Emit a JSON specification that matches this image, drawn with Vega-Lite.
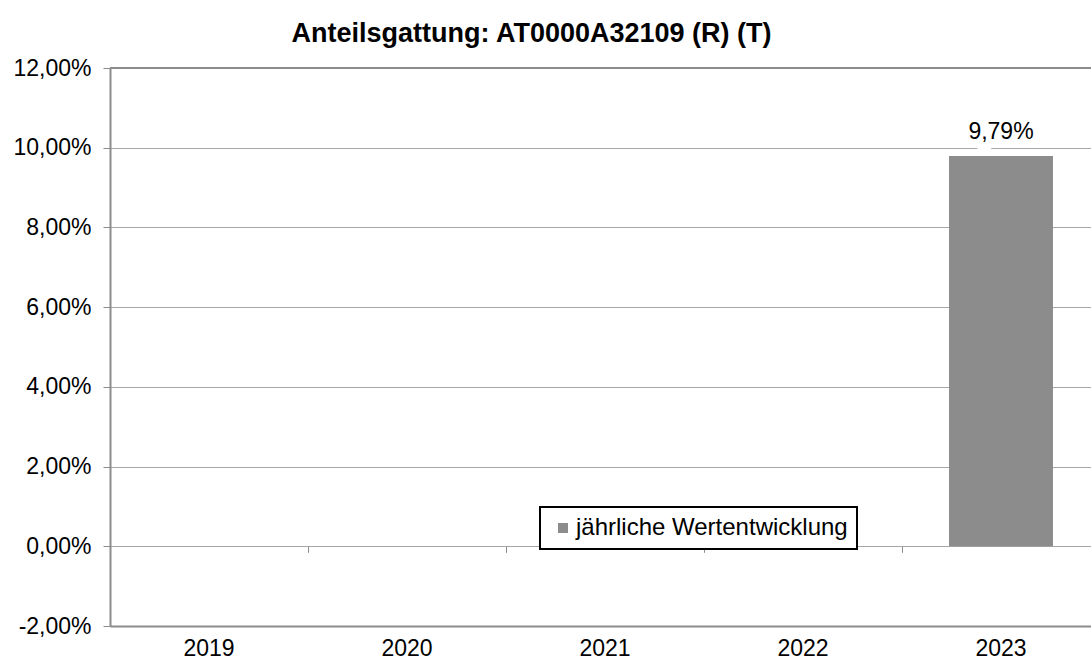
{
  "$schema": "https://vega.github.io/schema/vega-lite/v6.json",
  "autosize": {"type": "none"},
  "padding": {"left": 110, "top": 68, "right": 0, "bottom": 40},
  "width": 981,
  "height": 558,
  "background": "white",
  "title": {
    "text": "Anteilsgattung: AT0000A32109 (R) (T)",
    "font": "Liberation Sans",
    "fontSize": 27,
    "fontWeight": "bold",
    "color": "black",
    "anchor": "middle",
    "baseline": "alphabetic",
    "dx": -69,
    "offset": -12
  },
  "data": {
    "values": [
      {"Jahr": "2019", "Wert": null, "Serie": "jährliche Wertentwicklung"},
      {"Jahr": "2020", "Wert": null, "Serie": "jährliche Wertentwicklung"},
      {"Jahr": "2021", "Wert": null, "Serie": "jährliche Wertentwicklung"},
      {"Jahr": "2022", "Wert": null, "Serie": "jährliche Wertentwicklung"},
      {"Jahr": "2023", "Wert": 0.0979, "Serie": "jährliche Wertentwicklung"}
    ]
  },
  "config": {"view": {"stroke": null}, "font": "Liberation Sans", "legend": {"strokeWidth": 2}},
  "resolve": {"axis": {"x": "independent"}},
  "layer": [
    {
      "mark": {"type": "bar", "color": "#858585"},
      "encoding": {
        "x": {
          "field": "Jahr",
          "type": "ordinal",
          "scale": {"domain": ["2019", "2020", "2021", "2022", "2023"], "range": [0, 990], "paddingInner": 0.475, "paddingOuter": 0.2375},
          "axis": {
            "orient": "bottom",
            "title": null,
            "labelAngle": 0,
            "labelFontSize": 23,
            "labelColor": "black",
            "labelPadding": 11,
            "ticks": false,
            "grid": false,
            "domain": true,
            "domainColor": "#8c8c8c",
            "domainWidth": 2
          }
        },
        "y": {
          "field": "Wert",
          "type": "quantitative",
          "scale": {"domain": [-0.02, 0.12], "nice": false, "zero": false},
          "axis": {
            "title": null,
            "values": [-0.02, 0, 0.02, 0.04, 0.06, 0.08, 0.1, 0.12],
            "labelExpr": "replace(replace(format(datum.value * 100, '.2f'), '.', ','), '\u2212', '-') + '%'",
            "labelFontSize": 23,
            "labelColor": "black",
            "labelPadding": 12,
            "tickSize": 7,
            "tickColor": "#8c8c8c",
            "domain": true,
            "domainColor": "#8c8c8c",
            "domainWidth": 2,
            "grid": true,
            "gridColor": "#a6a6a6",
            "gridWidth": 1
          }
        },
        "color": {
          "field": "Serie",
          "type": "nominal",
          "scale": {"range": ["#8c8c8c"]},
          "legend": {
            "title": null,
            "orient": "none",
            "legendX": 430,
            "legendY": 439,
            "strokeColor": "black",
            "fillColor": "white",
            "padding": 9,
            "symbolType": "square",
            "symbolSize": 100,
            "symbolStrokeWidth": 0,
            "symbolOffset": 2,
            "labelFontSize": 24,
            "labelColor": "black",
            "labelOffset": 1,
            "labelLimit": 500
          }
        }
      }
    },
    {
      "transform": [{"filter": "datum.Wert != null"}, {"calculate": "replace(format(datum.Wert * 100, '.2f'), '.', ',') + '%'", "as": "Label"}],
      "mark": {"type": "text", "fontSize": 23, "stroke": "white", "strokeWidth": 18, "strokeJoin": "round", "fill": "white", "baseline": "alphabetic", "dy": -17},
      "encoding": {
        "x": {
          "field": "Jahr",
          "type": "ordinal",
          "axis": {
            "orient": "bottom",
            "offset": -79.7,
            "title": null,
            "labels": false,
            "domain": false,
            "grid": false,
            "ticks": true,
            "tickOffset": -99,
            "tickSize": 6,
            "tickColor": "#8c8c8c"
          }
        },
        "y": {"field": "Wert", "type": "quantitative"},
        "text": {"field": "Label", "type": "nominal"}
      }
    },
    {
      "transform": [{"filter": "datum.Wert != null"}, {"calculate": "replace(format(datum.Wert * 100, '.2f'), '.', ',') + '%'", "as": "Label"}],
      "mark": {"type": "text", "fontSize": 23, "color": "black", "baseline": "alphabetic", "dy": -17},
      "encoding": {
        "x": {"field": "Jahr", "type": "ordinal", "axis": null},
        "y": {"field": "Wert", "type": "quantitative"},
        "text": {"field": "Label", "type": "nominal"}
      }
    },
    {
      "data": {"values": [{"Linie": 0.12}]},
      "mark": {"type": "rule", "color": "#8c8c8c", "strokeWidth": 2},
      "encoding": {"y": {"field": "Linie", "type": "quantitative"}}
    }
  ]
}
